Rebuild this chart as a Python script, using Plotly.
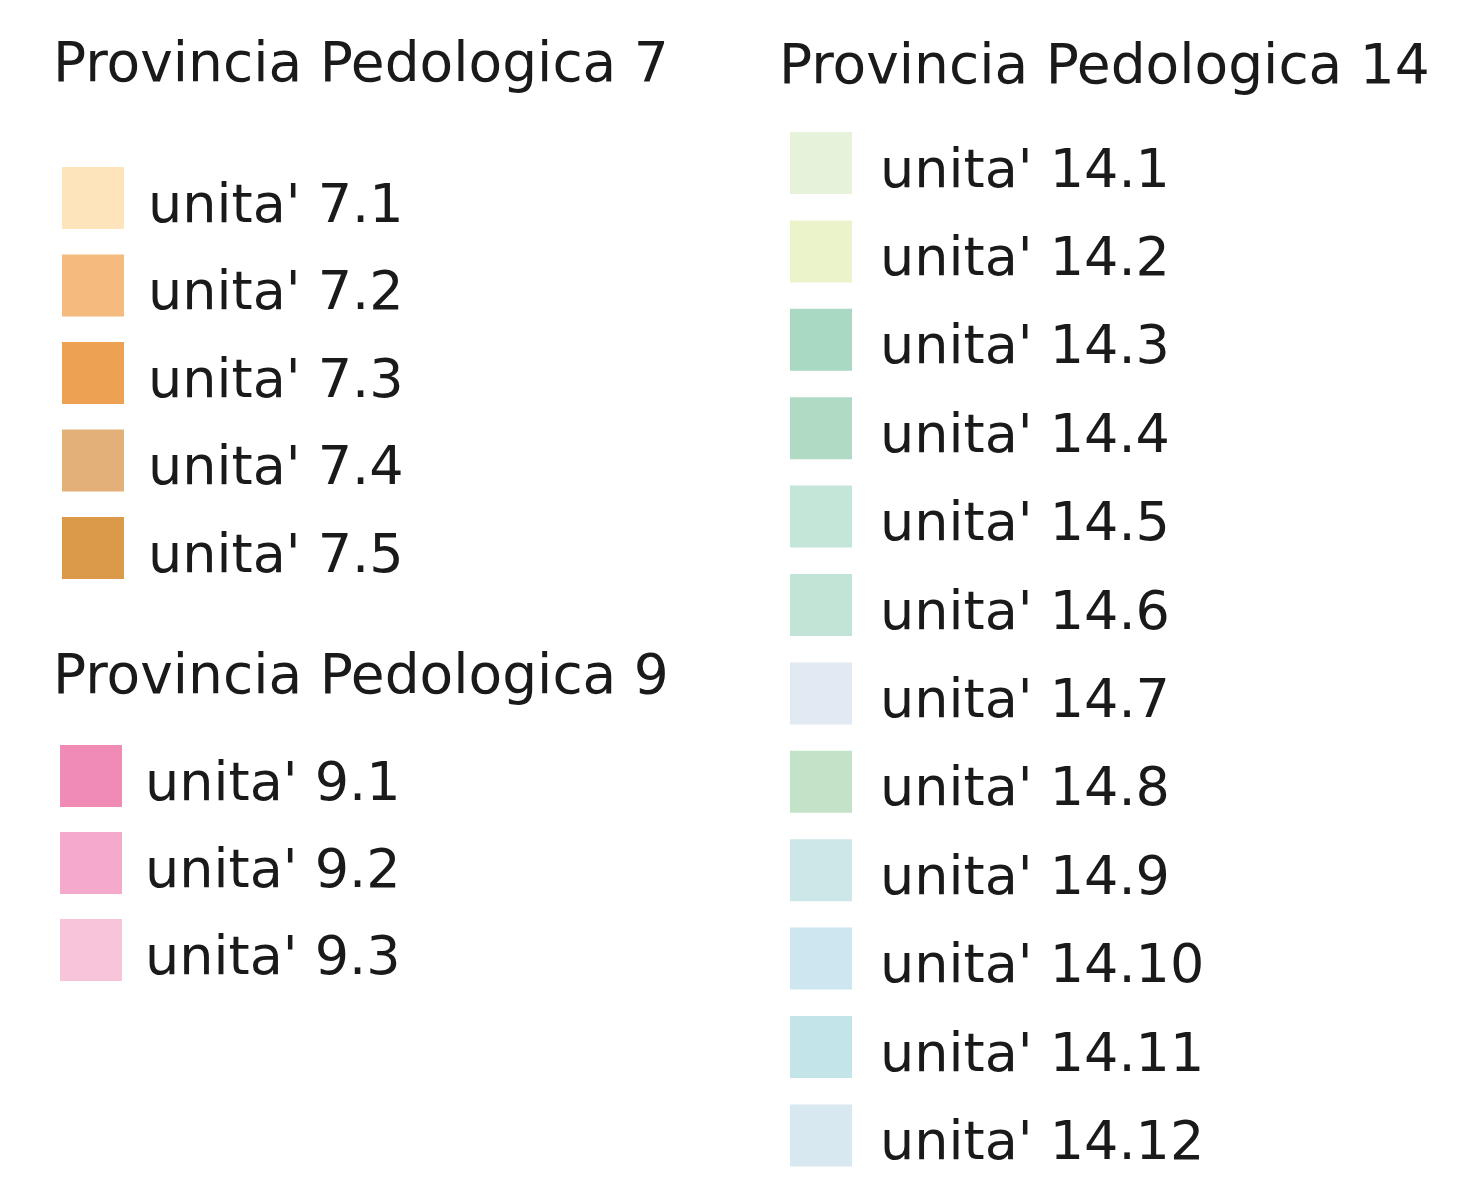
import plotly.graph_objects as go

# ---- data ----
group_titles = ["Provincia Pedologica 7", "Provincia Pedologica 9", "Provincia Pedologica 14"]

labels_7 = ["unita' 7.1", "unita' 7.2", "unita' 7.3", "unita' 7.4", "unita' 7.5"]
colors_7 = ["#fde4bb", "#f4ba7e", "#eca153", "#e4b079", "#db9a4a"]

labels_9 = ["unita' 9.1", "unita' 9.2", "unita' 9.3"]
colors_9 = ["#f08bb5", "#f5aacb", "#f8c4da"]

labels_14 = ["unita' 14.1", "unita' 14.2", "unita' 14.3", "unita' 14.4", "unita' 14.5",
             "unita' 14.6", "unita' 14.7", "unita' 14.8", "unita' 14.9", "unita' 14.10",
             "unita' 14.11", "unita' 14.12"]
colors_14 = ["#e6f2d9", "#ebf3cb", "#a9d9c2", "#b0dac3", "#c4e6d8", "#c2e4d6",
             "#e1e9f2", "#c3e3c9", "#cde7e9", "#cde6ef", "#c3e4e8", "#d8e8f0"]

W, H = 1474, 1192
OFF = 8  # page body margin compensation
FONT = "DejaVu Sans"
FS_LABEL = 54
FS_TITLE = 55

fig = go.Figure()

groups = [
    # (title, labels, colors, title_x, title_y, swatch_cx, first_y, step, label_x)
    (group_titles[0], labels_7, colors_7, 51, 62, 93, 198, 87.5, 146),
    (group_titles[1], labels_9, colors_9, 51, 674, 91, 776, 87.0, 143),
    (group_titles[2], labels_14, colors_14, 777, 64, 821, 163, 88.4, 878),
]

for title, labels, colors, tx, ty, cx, y0, step, lx in groups:
    ys = [y0 + i * step for i in range(len(labels))]
    fig.add_trace(go.Scatter(
        x=[cx] * len(labels), y=ys, mode="markers",
        marker=dict(symbol="square", size=62, color=colors, line=dict(width=0)),
        hoverinfo="skip", showlegend=False))
    for lab, y in zip(labels, ys):
        fig.add_annotation(x=lx, y=y + 5, text=lab, showarrow=False,
                           xanchor="left", yanchor="middle",
                           font=dict(family=FONT, size=FS_LABEL, color="#1a1a1a"))
    fig.add_annotation(x=tx, y=ty, text=title, showarrow=False,
                       xanchor="left", yanchor="middle",
                       font=dict(family=FONT, size=FS_TITLE, color="#1a1a1a"))

fig.update_layout(
    width=W, height=H,
    margin=dict(l=0, r=0, t=0, b=0),
    paper_bgcolor="white", plot_bgcolor="white",
    xaxis=dict(range=[OFF, W + OFF], visible=False, fixedrange=True),
    yaxis=dict(range=[H + OFF, OFF], visible=False, fixedrange=True),
)

fig.write_html("out.html")
